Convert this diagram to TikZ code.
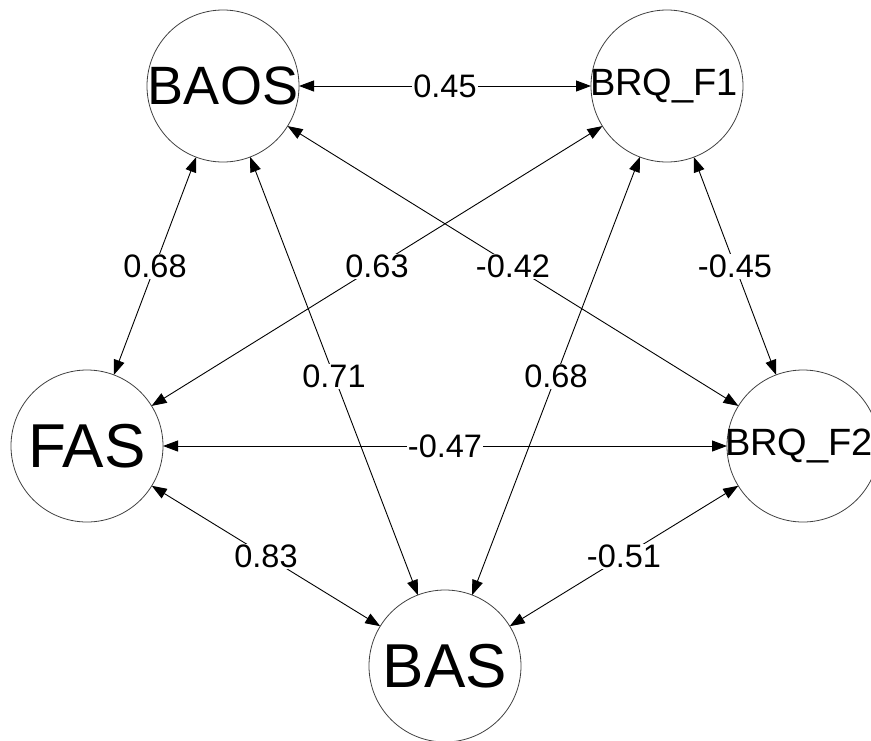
\documentclass[tikz,border=0pt]{standalone}
\usepackage{fontspec}
\setmainfont{Liberation Sans}
\usetikzlibrary{arrows.meta}

\begin{document}
\begin{tikzpicture}[x=1pt, y=-1pt,
    var/.style={circle, draw=black!75, line width=0.8pt, minimum size=152pt, inner sep=0pt, outer sep=0pt},
    cov/.style={{Triangle[length=15pt,width=11pt]}-{Triangle[length=15pt,width=11pt]}, line width=0.9pt},
    est/.style={fill=white, inner sep=1pt, font=\fontsize{32.5}{32.5}\selectfont}]
  \useasboundingbox (0,0) rectangle (871,740);

  % Variables
  \node[var, label={[font=\fontsize{54}{54}\selectfont]center:BAOS}] (baos) at (223,86) {};
  \node[var, label={[font=\fontsize{38}{38}\selectfont, xshift=-3pt]center:BRQ\_F1}] (brqa) at (667,86) {};
  \node[var, label={[font=\fontsize{62}{62}\selectfont]center:FAS}] (fas) at (87,446) {};
  \node[var, label={[font=\fontsize{38}{38}\selectfont, xshift=-4pt]center:BRQ\_F2}] (brqb) at (803,446) {};
  \node[var, label={[font=\fontsize{62}{62}\selectfont]center:BAS}] (bas) at (445,666) {};

  % Covariances
  \draw[cov] (baos) -- node[est] {0.45} (brqa);
  \draw[cov] (baos) -- node[est] {0.68} (fas);
  \draw[cov] (baos) -- node[est] {-0.42} (brqb);
  \draw[cov] (baos) -- node[est] {0.71} (bas);
  \draw[cov] (brqa) -- node[est] {0.63} (fas);
  \draw[cov] (brqa) -- node[est] {-0.45} (brqb);
  \draw[cov] (brqa) -- node[est] {0.68} (bas);
  \draw[cov] (fas) -- node[est] {-0.47} (brqb);
  \draw[cov] (fas) -- node[est] {0.83} (bas);
  \draw[cov] (brqb) -- node[est] {-0.51} (bas);
\end{tikzpicture}
\end{document}
